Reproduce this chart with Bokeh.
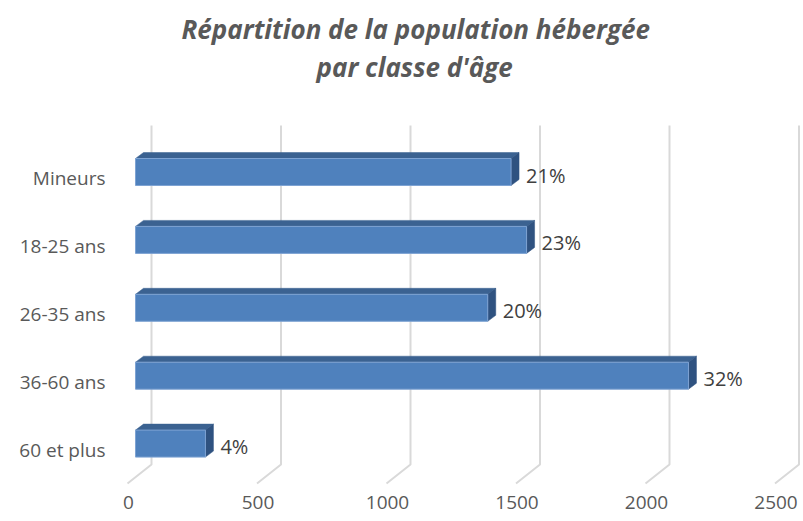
from bokeh.plotting import figure
from bokeh.models import Range1d, LinearAxis, FixedTicker, Title, ColumnDataSource
from bokeh.embed import file_html
from bokeh.resources import INLINE
from bokeh.core.properties import value

# ---------------- data ----------------
categories = ["Mineurs", "18-25 ans", "26-35 ans", "36-60 ans", "60 et plus"]
counts = [1450, 1510, 1360, 2135, 270]
pct_labels = ["21%", "23%", "20%", "32%", "4%"]
x_ticks = [0, 500, 1000, 1500, 2000, 2500]
title_lines = ["Répartition de la population hébergée", "par classe d'âge"]

# ---------------- layout (pixels) ----------------
W, H = 803, 521
B_L, B_R, B_T, B_B = 111, 0, 84, 28
FRAME_W = W - B_L - B_R
FRAME_H = H - B_T - B_B
PX_X = 0.259          # pixels per unit on the value axis
ROW_PX = 67.9         # pixels between category rows
BAR_ZERO_PX = 24      # bar base from the frame's left edge
FRONT_SHIFT_PX = 7    # front plane (labels) shifted left of bars
WALL_SHIFT_PX = 16    # back wall shifted right of bars
FIRST_ROW_PX = 87.5   # centre of top bar from the frame's top edge
LABEL_DROP_PX = 6     # category labels sit lower than bars (front plane)
BAR_H_PX = 27
DEPTH_DX, DEPTH_DY = 8, 6
WALL_TOP_PX, WALL_BOTTOM_PX, FLOOR_PX = 41, 380, 399

n = len(categories)
ys = [n - 1 - i for i in range(n)]

x_start = -BAR_ZERO_PX / PX_X
x_end = x_start + FRAME_W / PX_X
y_end = (n - 1) + FIRST_ROW_PX / ROW_PX
y_start = y_end - FRAME_H / ROW_PX

def ypix(px):
    return y_end - px / ROW_PX

p = figure(width=W, height=H, output_backend="svg", toolbar_location=None,
           x_range=Range1d(x_start, x_end), y_range=Range1d(y_start, y_end),
           x_axis_location=None, y_axis_location=None, title_location=None,
           min_border_left=B_L, min_border_right=B_R,
           min_border_top=B_T, min_border_bottom=B_B)
p.outline_line_color = None
p.grid.visible = False
p.background_fill_color = "white"
p.border_fill_color = "white"

p.extra_x_ranges = {"front": Range1d(x_start + FRONT_SHIFT_PX / PX_X,
                                     x_end + FRONT_SHIFT_PX / PX_X)}
p.extra_y_ranges = {"front": Range1d(y_start + LABEL_DROP_PX / ROW_PX,
                                     y_end + LABEL_DROP_PX / ROW_PX)}

# back wall grid lines + floor
wall_dx = WALL_SHIFT_PX / PX_X
front_dx = FRONT_SHIFT_PX / PX_X
gxs = [[t + wall_dx, t + wall_dx, t - front_dx - 1 / PX_X] for t in x_ticks]
gys = [[ypix(WALL_TOP_PX), ypix(WALL_BOTTOM_PX), ypix(FLOOR_PX)] for _ in x_ticks]
p.multi_line(gxs, gys, line_color="#d9d9d9", line_width=2)

# 3D bars
bh = BAR_H_PX / ROW_PX
ddx = DEPTH_DX / PX_X
ddy = DEPTH_DY / ROW_PX
tops = [y + bh / 2 for y in ys]
bots = [y - bh / 2 for y in ys]

top_xs = [[0, v, v + ddx, ddx] for v in counts]
top_ys = [[t, t, t + ddy, t + ddy] for t in tops]
side_xs = [[v, v + ddx, v + ddx, v] for v in counts]
side_ys = [[t, t + ddy, b + ddy, b] for t, b in zip(tops, bots)]

p.patches(top_xs, top_ys, fill_color="#3b6291", line_color="#3b6291", line_width=0.5)
p.patches(side_xs, side_ys, fill_color="#2f5280", line_color="#2f5280", line_width=0.5)
p.quad(left=[0] * n, right=counts, bottom=bots, top=tops,
       fill_color="#4f81bd", line_color="#7ea3d3", line_width=1)

# data labels
src = ColumnDataSource(dict(x=[v + ddx for v in counts], y=ys, t=pct_labels))
p.text("x", "y", text="t", source=src, x_offset=7, y_offset=3,
       text_baseline="middle", text_align="left",
       text_font=value("Open Sans"), text_font_size=value("20px"),
       text_color="#404040")

# axes
xa = LinearAxis(x_range_name="front", ticker=FixedTicker(ticks=x_ticks))
ya = LinearAxis(y_range_name="front", ticker=FixedTicker(ticks=ys),
                major_label_overrides={y: c for y, c in zip(ys, categories)})
for ax in (xa, ya):
    ax.axis_line_color = None
    ax.major_tick_line_color = None
    ax.minor_tick_line_color = None
    ax.major_tick_out = 0
    ax.major_tick_in = 0
    ax.major_label_text_font = "Open Sans"
    ax.major_label_text_font_size = "19px"
    ax.major_label_text_color = "#595959"
xa.major_label_standoff = 2
ya.major_label_standoff = 6
p.add_layout(xa, "below")
p.add_layout(ya, "left")

# titles (second line first: later titles stack further out)
t2 = Title(text=title_lines[1], align="left", offset=205, standoff=0,
           text_font="Open Sans", text_font_style="bold italic",
           text_font_size="26px", text_color="#595959")
t1 = Title(text=title_lines[0], align="left", offset=70, standoff=0,
           text_font="Open Sans", text_font_style="bold italic",
           text_font_size="26px", text_color="#595959")
p.add_layout(t2, "above")
p.add_layout(t1, "above")

open("out.html", "w").write(file_html(p, INLINE))
